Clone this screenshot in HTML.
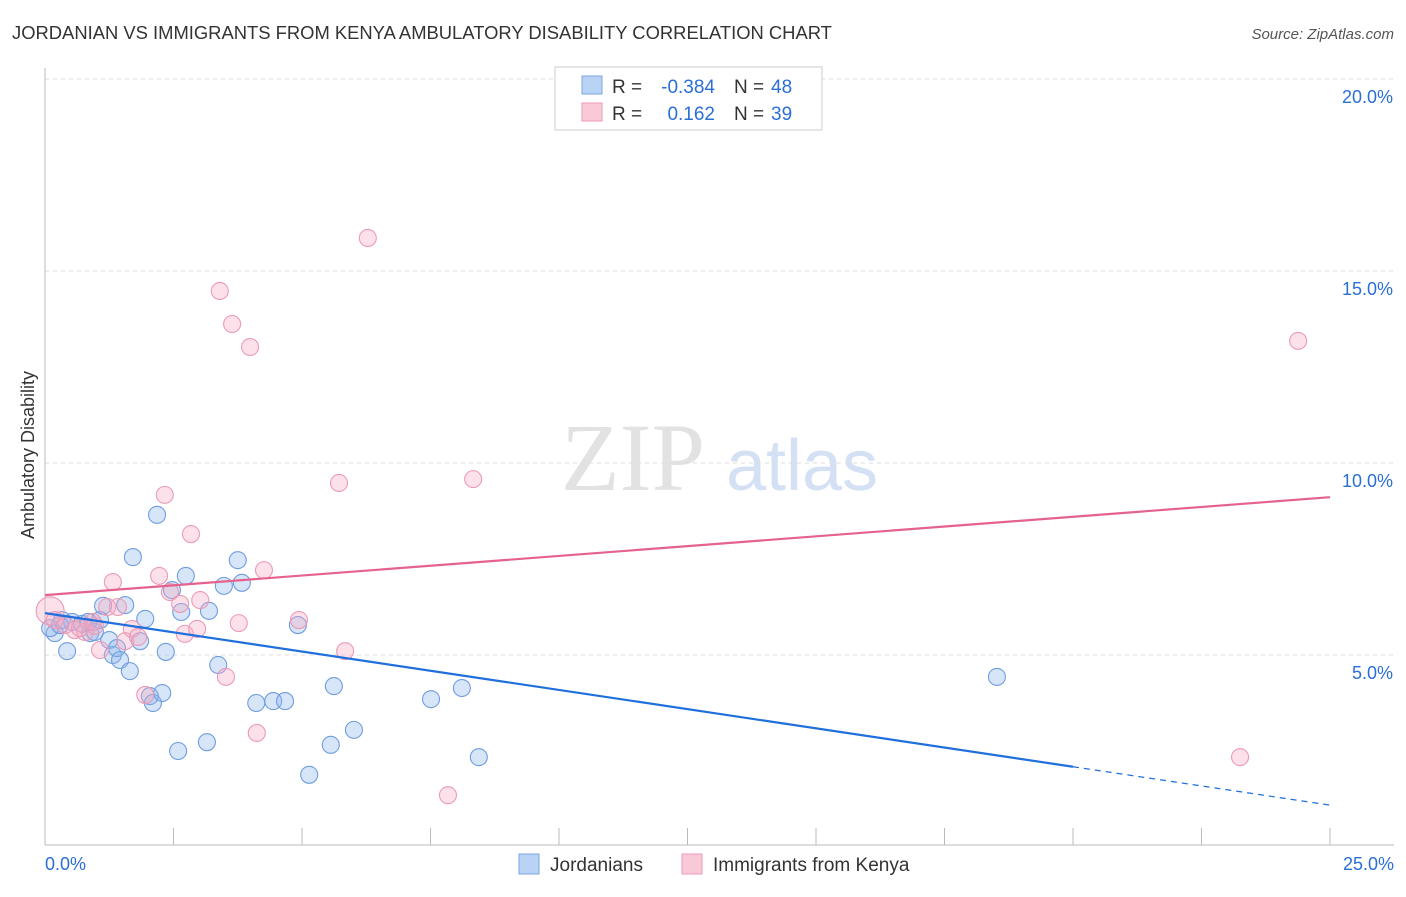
<!DOCTYPE html>
<html><head><meta charset="utf-8"><style>
body{margin:0;background:#fff;font-family:"Liberation Sans",sans-serif}
svg text{font-family:"Liberation Sans",sans-serif}
</style></head><body>
<svg id="chart" width="1406" height="892" xmlns="http://www.w3.org/2000/svg">
<text x="12" y="39" font-size="18.4" fill="#333">JORDANIAN VS IMMIGRANTS FROM KENYA AMBULATORY DISABILITY CORRELATION CHART</text>
<text x="1394" y="39" font-size="15" fill="#555" text-anchor="end" font-style="italic">Source: ZipAtlas.com</text>
<g>
<text x="633" y="490" font-size="96" fill="#e2e2e2" text-anchor="middle" style="font-family:'Liberation Serif',serif">ZIP</text>
<text x="802" y="490" font-size="72" fill="#d4e1f4" text-anchor="middle">atlas</text>
</g>
<g id="grid"></g>
<g id="axes"></g>
<g id="pts"></g>
<g id="lines"></g>
<text x="34" y="455" font-size="18" fill="#333" text-anchor="middle" transform="rotate(-90 34 455)">Ambulatory Disability</text>
<g>
<rect x="555" y="67" width="267" height="63" fill="#fff" stroke="#ccc"/>
<rect x="582" y="76" width="20" height="18" fill="#b9d3f5" stroke="#7aa6e6"/>
<rect x="582" y="103" width="20" height="18" fill="#f9c9d8" stroke="#ee9ab5"/>
<text x="612" y="93" font-size="19" fill="#333">R =</text>
<text x="715" y="93" font-size="19" fill="#2a6fd6" text-anchor="end">-0.384</text>
<text x="734" y="93" font-size="19" fill="#333">N =</text>
<text x="771" y="93" font-size="19" fill="#2a6fd6">48</text>
<text x="612" y="120" font-size="19" fill="#333">R =</text>
<text x="715" y="120" font-size="19" fill="#2a6fd6" text-anchor="end">0.162</text>
<text x="734" y="120" font-size="19" fill="#333">N =</text>
<text x="771" y="120" font-size="19" fill="#2a6fd6">39</text>
</g>
<g>
<rect x="519" y="854" width="20" height="20" fill="#b9d3f5" stroke="#7aa6e6"/>
<text x="550" y="871" font-size="19" fill="#333">Jordanians</text>
<rect x="682" y="854" width="20" height="20" fill="#f9c9d8" stroke="#ee9ab5"/>
<text x="713" y="871" font-size="19" fill="#333">Immigrants from Kenya</text>
</g>
</svg>
<script>
const blueX=[0.19,0.10,0.43,0.33,0.53,0.72,0.88,1.07,1.13,1.25,1.32,1.40,1.46,1.56,1.65,1.71,1.85,1.95,2.04,2.10,2.18,2.28,2.35,2.47,2.59,2.65,2.74,3.15,3.19,3.37,3.48,3.75,3.83,4.11,4.44,4.67,4.92,5.14,5.56,5.62,6.01,7.51,8.11,8.44,18.52,0.84,0.29,0.97];
const blueY=[5.57,5.70,5.10,5.91,5.86,5.81,5.57,5.91,6.28,5.39,5.00,5.18,4.87,6.30,4.58,7.55,5.36,5.94,3.93,3.75,8.65,4.01,5.08,6.69,2.50,6.12,7.06,2.73,6.15,4.74,6.80,7.47,6.88,3.75,3.80,3.80,5.78,1.88,2.66,4.19,3.05,3.85,4.14,2.34,4.43,5.86,5.78,5.60];
const pinkX=[0.10,0.19,0.39,0.58,0.78,0.97,1.07,1.21,1.32,1.42,1.56,1.69,1.81,1.95,2.22,2.33,2.43,2.63,2.72,2.84,2.96,3.02,3.52,3.40,3.64,3.77,3.99,4.12,4.26,4.94,5.72,5.84,6.28,7.84,8.33,24.38,23.25,0.68,0.93];
const pinkY=[6.15,5.91,5.78,5.65,5.60,5.76,5.13,6.25,6.90,6.25,5.36,5.68,5.47,3.96,7.06,9.17,6.64,6.33,5.55,8.15,5.68,6.43,4.43,14.48,13.62,5.83,13.02,2.97,7.21,5.91,9.48,5.10,15.86,1.35,9.58,13.18,2.34,5.70,5.86];
const yTicks=[5,10,15,20];
const xTickLabels=["0.0%","25.0%"];
const blueTrend=[6.09,1.09];
const pinkTrend=[6.56,9.11];
const blueSolidEnd=20;
const NS="http://www.w3.org/2000/svg";
const sx=v=>45+v*51.4, sy=v=>847-v*38.4;
function mk(tag,attrs,parent){const e=document.createElementNS(NS,tag);for(const k in attrs)e.setAttribute(k,attrs[k]);parent.appendChild(e);return e;}
const grid=document.getElementById('grid'),axes=document.getElementById('axes'),pts=document.getElementById('pts'),lines=document.getElementById('lines');
yTicks.forEach(t=>{
 const l=mk('line',{x1:45,x2:1394,y1:sy(t),y2:sy(t),stroke:'#ddd','stroke-dasharray':'4,4'},grid);
 
 
 const tx=mk('text',{x:1393,y:sy(t)+24,'font-size':18,fill:'#2a6fd6','text-anchor':'end'},grid);
 tx.textContent=t.toFixed(1)+'%';
 
 
});
const ax=mk('line',{x1:45,x2:45,y1:68,y2:845,stroke:'#bbb'},axes);


const bx=mk('line',{x1:45,x2:1394,y1:845,y2:845,stroke:'#bbb'},axes);


for(let i=0;i<=10;i++){const t=mk('line',{x1:sx(i*2.5),x2:sx(i*2.5),y1:828,y2:845,stroke:'#bbb'},axes);
 
 }
[[0,'start',45],[25,'end',1394]].forEach((d,i)=>{const t=mk('text',{x:d[2],y:870,'font-size':18,fill:'#2a6fd6','text-anchor':d[1]},axes);t.textContent=xTickLabels[i];
 
 });
blueX.forEach((x,i)=>{const c=mk('circle',{cx:sx(x),cy:sy(blueY[i]),r:8.5,fill:'rgba(140,180,235,0.35)',stroke:'#6f9de0','stroke-width':1.1},pts);
 
 });
pinkX.forEach((x,i)=>{const c=mk('circle',{cx:sx(x),cy:sy(pinkY[i]),r:i===0?14:8.5,fill:'rgba(245,170,195,0.35)',stroke:'#ec9ab5','stroke-width':1.1},pts);
 
 });
const by=x=>blueTrend[0]+(blueTrend[1]-blueTrend[0])*x/25;
const l1=mk('line',{x1:sx(0),y1:sy(by(0)),x2:sx(blueSolidEnd),y2:sy(by(blueSolidEnd)),stroke:'#1f6fdc','stroke-width':2.2},lines);


const l2=mk('line',{x1:sx(blueSolidEnd),y1:sy(by(blueSolidEnd)),x2:sx(25),y2:sy(by(25)),stroke:'#1f6fdc','stroke-width':1.2,'stroke-dasharray':'6,5'},lines);


const l3=mk('line',{x1:sx(0),y1:sy(pinkTrend[0]),x2:sx(25),y2:sy(pinkTrend[1]),stroke:'#e5628f','stroke-width':2.2},lines);


</script>
</body></html>
